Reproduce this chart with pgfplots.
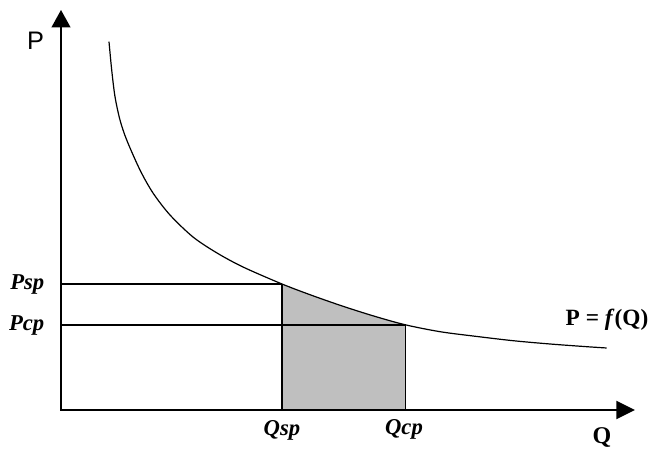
\documentclass[border=0pt]{standalone}
\usepackage{pgfplots}
\pgfplotsset{compat=1.18}
\usetikzlibrary{arrows.meta}
\usepackage{fontspec}
\setmainfont{Liberation Serif}
\newfontfamily\sansf{Liberation Sans}
\begin{document}
\begin{tikzpicture}
\begin{axis}[
  width=489.75pt, height=336pt, scale only axis,
  xmin=0, xmax=653, ymin=0, ymax=448,
  axis lines=none, ticks=none, clip=false,
]
\addplot[draw=none] coordinates {(0,0) (653,448)};
% shaded area
\addplot[fill=black!25, draw=none, smooth] coordinates {
(282,164) (313,152.2) (344,141.4) (375,131.6) (405.7,123.1)} -- (axis cs:405.7,38) -- (axis cs:282,38) -- cycle;
% curve
\addplot[black, line width=0.9pt, smooth] coordinates {
(109,406.3) (111.7,378) (115,351.3) (120,328) (126.7,308) (140,278) (153,255) (170,233) (193,211) (217,195) (243,181) (282,164) (313,152.2) (344,141.4) (375,131.6) (405.7,123.1) (440,116.3) (473,112) (513,107.3) (550,104) (586.7,101.3) (606.7,100)};
% rectangles
\addplot[black, line width=1.1pt] coordinates {(61,164) (282,164)};
\addplot[black, line width=1.1pt] coordinates {(61,123.1) (405.7,123.1)};
\addplot[black, line width=1.1pt] coordinates {(282,38) (282,164)};
\addplot[black, line width=1.1pt] coordinates {(405.7,38) (405.7,123.1)};
% axes
\addplot[black, line width=1.5pt, -{Triangle[length=13pt,width=14pt]}] coordinates {(61,37) (61,438)};
\addplot[black, line width=1.5pt, -{Triangle[length=14pt,width=13.5pt]}] coordinates {(60,38) (635,38)};
% labels
\node[font=\sansf\fontsize{19}{19}\selectfont] at (axis cs:35.5,407) {P};
\node[font=\fontsize{17}{17}\selectfont\bfseries\itshape, anchor=east] at (axis cs:49,164) {Psp};
\node[font=\fontsize{17}{17}\selectfont\bfseries\itshape, anchor=east] at (axis cs:49,123) {Pcp};
\node[font=\fontsize{17}{17}\selectfont\bfseries\itshape] at (axis cs:282,18) {Qsp};
\node[font=\fontsize{17}{17}\selectfont\bfseries\itshape] at (axis cs:404,19) {Qcp};
\node[font=\fontsize{18}{18}\selectfont\bfseries] at (axis cs:602,10) {Q};
\node[font=\fontsize{17.5}{17.5}\selectfont\bfseries, anchor=east] at (axis cs:653,128) {P = \textit{f}(Q)};
\end{axis}
\end{tikzpicture}
\end{document}
